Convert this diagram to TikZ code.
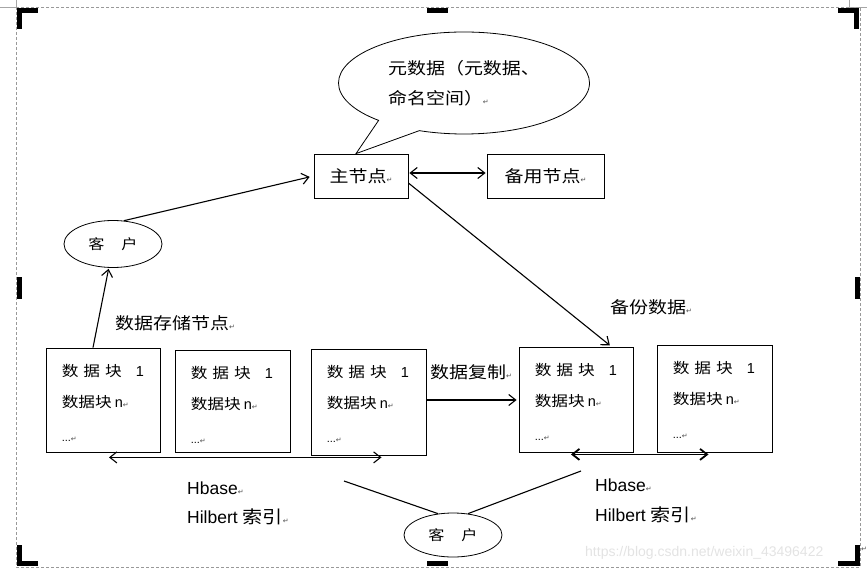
\documentclass[tikz,border=0pt]{standalone}
\usepackage{fontspec}
\setmainfont{Liberation Sans}
\newfontfamily\cjk[FakeStretch=1.15]{Noto Sans CJK SC}
\newfontfamily\djv{DejaVu Sans}
\usetikzlibrary{arrows.meta,shapes.geometric,shapes.callouts,calc}
\newcommand\pmk{{\djv\fontsize{7}{7}\selectfont\color{black!70}↵}}
\newcommand\blk{{\cjk 数\hspace{5pt}据\hspace{5pt}块}\hspace{14pt}1\\{\cjk 数据块}\hspace{3pt}n\pmk\\[3pt]{\fontsize{11}{11}\selectfont ...}\pmk}
\tikzset{
  barb/.tip={Straight Barb[length=7pt,width=11pt]},
  conn/.style={line width=1.1pt,-barb},
  dconn/.style={line width=1.1pt,barb-barb},
  plainln/.style={line width=1.1pt},
  boxn/.style={draw,line width=0.8pt,rectangle,inner sep=0pt},
  ellnode/.style={draw,line width=0.8pt,ellipse,inner sep=0pt,font=\fontsize{14}{14}\selectfont\cjk},
  blocktext/.style={anchor=north west,inner sep=0pt,align=left,font=\fontsize{14.5}{31}\selectfont},
  lbl/.style={anchor=west,inner sep=0pt,font=\fontsize{16.5}{20}\selectfont},
  lat/.style={anchor=west,inner sep=0pt,font=\fontsize{17.5}{20}\selectfont},
  cornermark/.style={fill=black}
}
\begin{document}
\begin{tikzpicture}[x=1pt,y=-1pt]
\useasboundingbox (0,0) rectangle (867,572);
% page decoration
\draw[gray!70,line width=0.6pt] (0,7) -- (16,7) -- (16,0);
\draw[gray!70,line width=0.6pt] (849,0) -- (849,7) -- (867,7);
\draw[gray!80,line width=0.6pt,dash pattern=on 3pt off 2pt] (16,7) rectangle (860,567);
\node[anchor=west,text=gray!22,font=\fontsize{14}{14}\selectfont,inner sep=0pt] (wm) at (585,553) {https://blog.csdn.net/weixin\_43496422};
\node[inner sep=0pt] (pmend) at (864,549) {\pmk};
\fill[cornermark] (17,8) rectangle (22,29); \fill[cornermark] (17,8) rectangle (38,13);
\fill[cornermark] (838,8) rectangle (859,13); \fill[cornermark] (854,8) rectangle (859,29);
\fill[cornermark] (17,545) rectangle (22,566); \fill[cornermark] (17,561) rectangle (38,566);
\fill[cornermark] (855,545) rectangle (860,566); \fill[cornermark] (838,561) rectangle (860,566);
\fill[cornermark] (427,8) rectangle (448,13);
\fill[cornermark] (17,277) rectangle (22,299);
\fill[cornermark] (855,277) rectangle (860,299);
\fill[cornermark] (427,561) rectangle (448,566);

% top nodes
\node[boxn,minimum width=94pt,minimum height=44pt,font=\fontsize{16.5}{20}\selectfont] (master) at (361,176) {{\cjk 主节点}\pmk};
\node[boxn,minimum width=117pt,minimum height=44pt,font=\fontsize{16.5}{20}\selectfont] (backup) at (545.5,176) {{\cjk 备用节点}\pmk};
\node[ellipse callout,draw,line width=0.8pt,minimum width=251pt,minimum height=102pt,inner sep=0pt,
      callout absolute pointer={([xshift=-5pt]master.north)},callout pointer arc=22,
      align=left,font=\fontsize{16.5}{30}\selectfont] (meta) at (464,83)
      {{\cjk 元数据（元数据、}\\{\cjk 命名空间）}\pmk};
\node[ellnode,minimum width=98pt,minimum height=47pt] (client1) at (113,244) {客\hspace{17pt}户};

% data blocks
\node[boxn,minimum width=114pt,minimum height=104pt] (b1) at (103,400) {};
\node[boxn,minimum width=115pt,minimum height=102pt] (b2) at (232.5,401) {};
\node[boxn,minimum width=115pt,minimum height=106pt] (b3) at (368.5,402) {};
\node[boxn,minimum width=114pt,minimum height=105pt] (b4) at (576,399.5) {};
\node[boxn,minimum width=115pt,minimum height=107pt] (b5) at (714.5,398.5) {};
\foreach \b in {b1,b2,b3,b4,b5}{
  \node[blocktext] (\b t) at ($(\b.north west)+(16,17)$) {\blk};
}

% labels
\node[lbl] (dsn) at (115,323) {{\cjk 数据存储节点}\pmk};
\node[lbl] (rep) at (430,372) {{\cjk 数据复制}\pmk};
\node[lbl] (bak) at (610,307) {{\cjk 备份数据}\pmk};
\node[lat] (hb1) at (187,488) {Hbase\pmk};
\node[lat] (hi1) at (187,517) {Hilbert {\cjk 索引}\pmk};
\node[lat] (hb2) at (595,485) {Hbase\pmk};
\node[lat] (hi2) at (595,515) {Hilbert {\cjk 索引}\pmk};

\node[ellnode,minimum width=98pt,minimum height=44pt] (client2) at (453,535) {客\hspace{17pt}户};

% connectors
\draw[conn,shorten >=4pt] (client1.65) -- (master.west);
\draw[conn,shorten >=1pt] ([xshift=-10pt]b1.north) -- (client1.260);
\draw[dconn,shorten >=1pt,shorten <=1pt] ([yshift=3pt]master.east) -- ([yshift=3pt]backup.west);
\draw[conn,shorten >=2pt] ([yshift=-7pt]master.east) -- ([xshift=-22pt]b4.north east);
\coordinate (r1) at ([yshift=2pt]b3.east);
\draw[conn,shorten >=2pt] (r1) -- (r1 -| b4.west);
\coordinate (h1a) at ($(b1.south)+(6,5)$);
\coordinate (h1b) at ($(b3.south)+(13,0)$);
\draw[dconn] (h1a) -- (h1a -| h1b);
\coordinate (h2a) at ($(b4.south)+(-5,2)$);
\coordinate (h2b) at ($(b5.south)+(-6,0)$);
\draw[dconn,line width=1.8pt] (h2a) -- (h2a -| h2b);
\coordinate (hl) at (344,481);
\coordinate (hr) at (581,471);
\draw[plainln] (hl) -- (client2.125);
\draw[plainln] (client2.55) -- (hr);
\end{tikzpicture}
\end{document}
